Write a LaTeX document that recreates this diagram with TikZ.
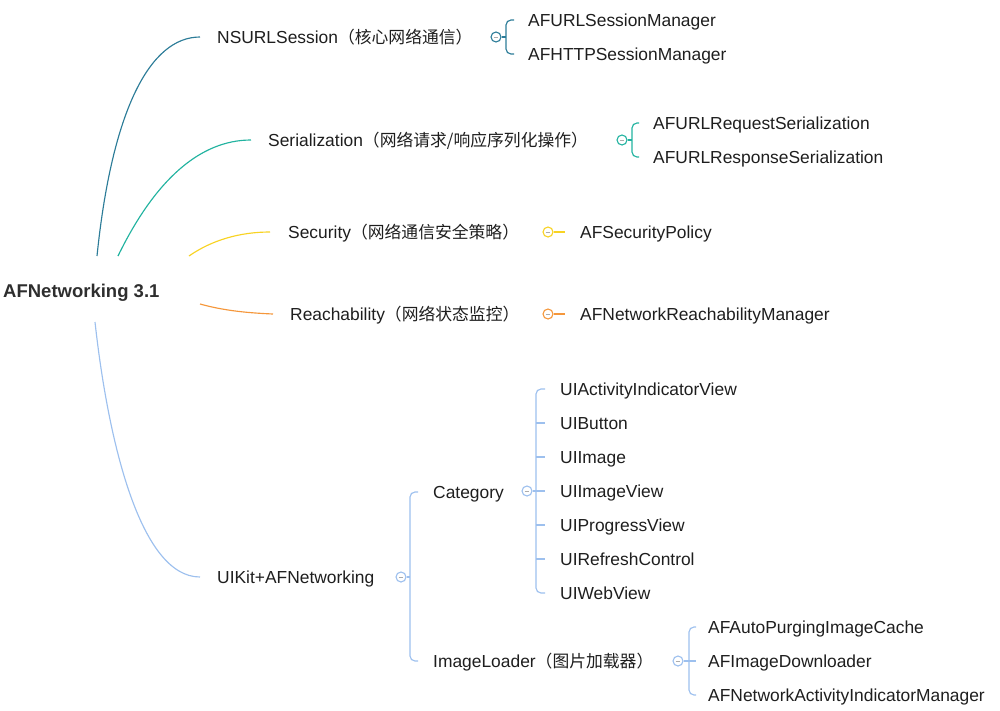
\documentclass[tikz,border=0pt]{standalone}
\usepackage{fontspec}
\setmainfont{Liberation Sans}
\newfontfamily\cjk{Noto Sans CJK SC}
\newcommand{\zh}[1]{{\cjk\fontsize{16.8}{19}\selectfont #1}}
\definecolor{cA}{HTML}{2C7C98}
\definecolor{cB}{HTML}{22B3A0}
\definecolor{cC}{HTML}{F8D323}
\definecolor{cD}{HTML}{F5973B}
\definecolor{cE}{HTML}{9DC0EE}
\definecolor{ink}{HTML}{1E1E1E}
\tikzset{
  txt/.style={anchor=base west, inner sep=0pt, font=\fontsize{17.4}{19}\selectfont, text=ink},
  rootnode/.style={anchor=base west, inner sep=0pt, font=\fontsize{18.5}{20}\selectfont\bfseries, text=black!82},
  tog/.style={circle, draw=#1, fill=white, minimum size=10pt, inner sep=0pt, line width=1.1pt,
    path picture={\draw[gray!65, line width=1pt] ([xshift=-2.4pt]path picture bounding box.center) -- ([xshift=2.4pt]path picture bounding box.center);}},
  link/.style={draw=#1, line width=1.15pt},
  brk/.style={draw=#1, line width=1.15pt, rounded corners=5pt}
}
\begin{document}
\begin{tikzpicture}[x=1pt,y=-1pt]
\useasboundingbox (0,0) rectangle (1000,710);
% root
\node[rootnode] (root) at (3,297) {AFNetworking 3.1};
% main branches
\node[txt] (ns) at (217,43) {NSURLSession\zh{（核心网络通信）}};
\node[txt] (se) at (268,146) {Serialization\zh{（网络请求/响应序列化操作）}};
\node[txt] (sc) at (288,238) {Security\zh{（网络通信安全策略）}};
\node[txt] (re) at (290,320) {Reachability\zh{（网络状态监控）}};
\node[txt] (ui) at (217,583) {UIKit+AFNetworking};
% root curves
\coordinate (r1) at (97,256);
\coordinate (r2) at (118,256);
\coordinate (r3) at (189,256);
\coordinate (r4) at (200,304);
\coordinate (r5) at (95,322);
\coordinate (e1) at (200,37);
\coordinate (e2) at (251,140);
\coordinate (e3) at (270,232);
\coordinate (e4) at (273,314);
\coordinate (e5) at (200,577);
\draw[link=cA] (r1) .. controls (112,110) and (150,37) .. (e1);
\draw[link=cB] (r2) .. controls (155,180) and (200,140) .. (e2);
\draw[link=cC] (r3) .. controls (212,240) and (240,232) .. (e3);
\draw[link=cD] (r4) .. controls (225,311) and (250,313) .. (e4);
\draw[link=cE] (r5) .. controls (108,440) and (140,577) .. (e5);
% NSURLSession children
\node[tog=cA] (t1) at (496,37) {};
\node[txt] (n1) at (528,26) {AFURLSessionManager};
\node[txt] (n2) at (528,60) {AFHTTPSessionManager};
\draw[link=cA] (t1.east) -- (506,37);
\draw[brk=cA] (514,20) -- (506,20) -- (506,54) -- (514,54);
% Serialization children
\node[tog=cB] (t2) at (622,140) {};
\node[txt] (s1) at (653,129) {AFURLRequestSerialization};
\node[txt] (s2) at (653,163) {AFURLResponseSerialization};
\draw[link=cB] (t2.east) -- (632,140);
\draw[brk=cB] (639,123) -- (632,123) -- (632,157) -- (639,157);
% Security child
\node[tog=cC] (t3) at (548,232) {};
\node[txt] (p1) at (580,238) {AFSecurityPolicy};
\draw[link=cC] (t3.east) -- (565,232);
% Reachability child
\node[tog=cD] (t4) at (548,314) {};
\node[txt] (q1) at (580,320) {AFNetworkReachabilityManager};
\draw[link=cD] (t4.east) -- (565,314);
% UIKit children
\node[tog=cE] (t5) at (401,577) {};
\node[txt] (ca) at (433,498) {Category};
\node[txt] (il) at (433,667) {ImageLoader\zh{（图片加载器）}};
\draw[link=cE] (t5.east) -- (410,577);
\draw[brk=cE] (418,492) -- (410,492) -- (410,661) -- (418,661);
% Category children
\node[tog=cE] (t6) at (527,491) {};
\node[txt] (u1) at (560,395) {UIActivityIndicatorView};
\node[txt] (u2) at (560,429) {UIButton};
\node[txt] (u3) at (560,463) {UIImage};
\node[txt] (u4) at (560,497) {UIImageView};
\node[txt] (u5) at (560,531) {UIProgressView};
\node[txt] (u6) at (560,565) {UIRefreshControl};
\node[txt] (u7) at (560,599) {UIWebView};
\draw[brk=cE] (545,389) -- (536,389) -- (536,593) -- (545,593);
\foreach \yy in {423,457,525,559} \draw[link=cE] (536,\yy) -- (545,\yy);
\draw[link=cE] (t6.east) -- (545,491);
% ImageLoader children
\node[tog=cE] (t7) at (678,661) {};
\node[txt] (a1) at (708,633) {AFAutoPurgingImageCache};
\node[txt] (a2) at (708,667) {AFImageDownloader};
\node[txt] (a3) at (708,701) {AFNetworkActivityIndicatorManager};
\draw[brk=cE] (696,627) -- (689,627) -- (689,695) -- (696,695);
\draw[link=cE] (t7.east) -- (696,661);
\end{tikzpicture}
\end{document}
